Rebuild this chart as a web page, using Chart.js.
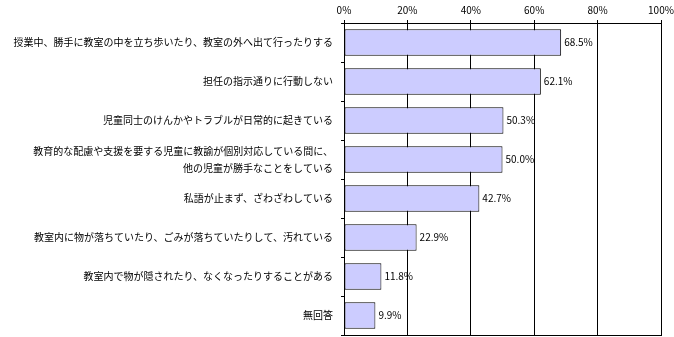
<!DOCTYPE html>
<html>
<head>
<meta charset="utf-8">
<script src="https://cdn.jsdelivr.net/npm/chart.js@4/dist/chart.umd.min.js"></script>
<style>
  html, body { margin: 0; padding: 0; background: #fff; }
  #wrap { width: 674px; height: 337px; }
</style>
</head>
<body>
<div id="wrap"><canvas id="c" width="674" height="337"></canvas></div>
<script>
// 学級の状況（複数回答）
const categories = [
  "授業中、勝手に教室の中を立ち歩いたり、教室の外へ出て行ったりする",
  "担任の指示通りに行動しない",
  "児童同士のけんかやトラブルが日常的に起きている",
  ["教育的な配慮や支援を要する児童に教諭が個別対応している間に、", "他の児童が勝手なことをしている"],
  "私語が止まず、ざわざわしている",
  "教室内に物が落ちていたり、ごみが落ちていたりして、汚れている",
  "教室内で物が隠されたり、なくなったりすることがある",
  "無回答"
];
const percentages = [68.5, 62.1, 50.3, 50.0, 42.7, 22.9, 11.8, 9.9];
const axisTicks = [0, 20, 40, 60, 80, 100];

const FONT = "'Noto Sans CJK JP', 'DejaVu Sans', sans-serif";

// 各棒の右端に値（%）を表示
const valueLabels = {
  id: 'valueLabels',
  afterDatasetsDraw(chart) {
    const ctx = chart.ctx;
    const meta = chart.getDatasetMeta(0);
    ctx.save();
    ctx.font = "10px " + FONT;
    ctx.fillStyle = "#000";
    ctx.textAlign = "left";
    ctx.textBaseline = "middle";
    meta.data.forEach((bar, i) => {
      ctx.fillText(percentages[i].toFixed(1) + "%", bar.x + 3, bar.y);
    });
    ctx.restore();
  }
};

// 軸ラベルのはみ出しによる自動余白を使わない
function noEdgePadding(scale) {
  scale.paddingTop = 0;
  scale.paddingBottom = 0;
  scale.paddingLeft = 0;
  scale.paddingRight = 0;
}

new Chart(document.getElementById('c'), {
  type: 'bar',
  data: {
    labels: categories,
    datasets: [{
      data: percentages,
      backgroundColor: '#ccccff',
      borderColor: '#000',
      borderWidth: 1,
      borderSkipped: false,
      barPercentage: 0.68,
      categoryPercentage: 1.0
    }]
  },
  options: {
    indexAxis: 'y',
    responsive: false,
    animation: false,
    devicePixelRatio: 1,
    layout: { padding: { left: 0, right: 13, top: 0, bottom: 1 } },
    plugins: {
      legend: { display: false },
      tooltip: { enabled: false }
    },
    scales: {
      x: {
        position: 'top',
        min: 0,
        max: 100,
        afterBuildTicks(scale) {
          scale.ticks = axisTicks.map(v => ({ value: v }));
        },
        afterFit(scale) { scale.height = 23; noEdgePadding(scale); },
        ticks: {
          callback: v => v + "%",
          font: { family: FONT, size: 10 },
          color: '#000',
          padding: 4,
          maxRotation: 0
        },
        grid: {
          color: '#000',
          lineWidth: 1,
          tickLength: 3,
          drawTicks: true
        },
        border: { display: true, color: '#000', width: 1 }
      },
      x2: {
        position: 'bottom',
        min: 0,
        max: 100,
        afterFit(scale) { scale.height = 1; noEdgePadding(scale); },
        ticks: { display: false },
        grid: { display: false, drawTicks: false },
        border: { display: true, color: '#000', width: 1 }
      },
      y: {
        afterFit(scale) { scale.width = 344; noEdgePadding(scale); },
        ticks: {
          font: { family: FONT, size: 10, lineHeight: 1.65 },
          color: '#000',
          padding: 8,
          autoSkip: false
        },
        grid: {
          offset: true,
          drawOnChartArea: false,
          drawTicks: true,
          tickLength: 3,
          color: '#000',
          lineWidth: 1
        },
        border: { display: true, color: '#000', width: 1 }
      }
    }
  },
  plugins: [valueLabels]
});
</script>
</body>
</html>
